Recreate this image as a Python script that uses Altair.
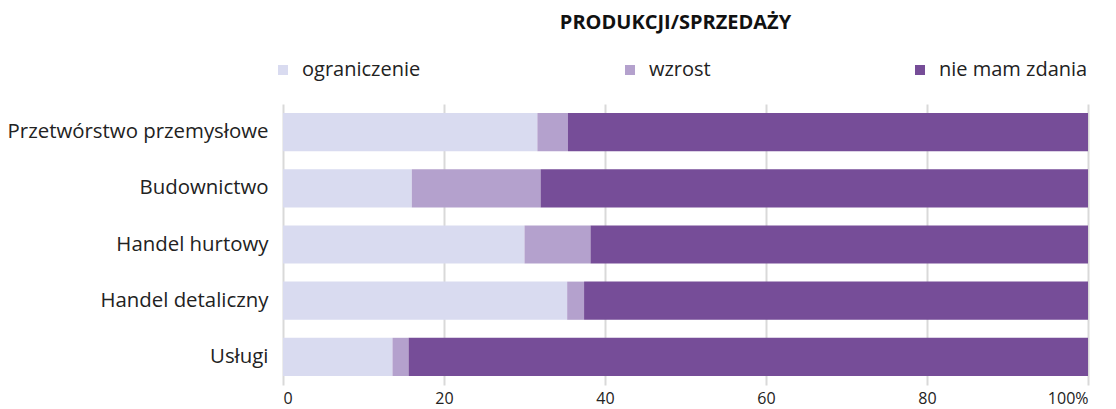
import altair as alt
import pandas as pd

categories = ["Przetwórstwo przemysłowe", "Budownictwo", "Handel hurtowy", "Handel detaliczny", "Usługi"]
series = ["ograniczenie", "wzrost", "nie mam zdania"]
ograniczenie = [31.6, 16.0, 30.0, 35.3, 13.6]
wzrost = [3.8, 16.0, 8.2, 2.1, 2.0]
nie_mam_zdania = [64.6, 68.0, 61.8, 62.6, 84.4]
colors = ["#d9dbf0", "#b4a1cd", "#764d98"]
x_ticks = [0, 20, 40, 60, 80, 100]

rows = []
for i, c in enumerate(categories):
    for j, (s, vals) in enumerate(zip(series, [ograniczenie, wzrost, nie_mam_zdania])):
        rows.append({"kategoria": c, "seria": s, "wartosc": vals[i], "kolej": j})
df = pd.DataFrame(rows)

FONT = "Open Sans"

chart = alt.Chart(df).mark_bar().encode(
    y=alt.Y("kategoria:N", sort=categories, title=None,
            scale=alt.Scale(paddingInner=0.32, paddingOuter=0.16),
            axis=alt.Axis(ticks=False, domain=False, labelFontSize=20.4, labelColor="#222",
                          labelFont=FONT, labelPadding=15, labelLimit=400)),
    x=alt.X("wartosc:Q", stack="zero", title=None,
            scale=alt.Scale(domain=[0, 100], nice=False),
            axis=alt.Axis(values=x_ticks, ticks=False, domain=False, grid=True,
                          gridColor="#d9d9d9", gridWidth=2, labelFontSize=16,
                          labelColor="#222", labelFont=FONT, labelPadding=5,
                          labelExpr="datum.value == 100 ? '100%' : datum.label")),
    color=alt.Color("seria:N", sort=series,
                    scale=alt.Scale(domain=series, range=colors),
                    legend=alt.Legend(title=None, orient="none", legendX=-10, legendY=-44,
                                      direction="horizontal", symbolType="square",
                                      symbolSize=100, symbolStrokeWidth=0,
                                      labelFontSize=20, labelFont=FONT, labelColor="#222",
                                      columnPadding=199, gridAlign="none", labelOffset=9)),
    order=alt.Order("kolej:Q"),
).properties(
    width=805,
    height=281,
    padding={"left": 275, "top": 96, "right": 14, "bottom": 26},
    autosize="none",
    title=alt.TitleParams("PRODUKCJI/SPRZEDAŻY", font=FONT, fontSize=20, fontWeight="bold",
                          color="#111", anchor="middle", dx=-10, offset=27),
).configure_view(stroke=None)

chart.save("out.html", embed_options={"renderer": "svg", "actions": False})
